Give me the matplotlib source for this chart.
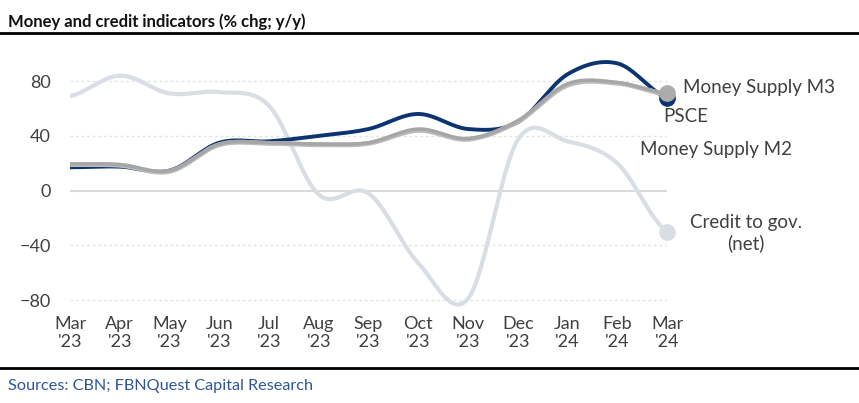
import numpy as np
import matplotlib
matplotlib.use("Agg")
import matplotlib.pyplot as plt

plt.rcParams['font.family'] = ['Lato', 'DejaVu Sans']

# data (% chg y/y)
months = ["Mar\n'23", "Apr\n'23", "May\n'23", "Jun\n'23", "Jul\n'23", "Aug\n'23", "Sep\n'23",
          "Oct\n'23", "Nov\n'23", "Dec\n'23", "Jan\n'24", "Feb\n'24", "Mar\n'24"]
credit_gov = [69, 84, 71, 72, 62, -3, -2, -53, -79, 37, 36, 20, -30]
psce = [17, 17.5, 14.6, 35, 36, 40, 45, 56, 45, 50, 85, 93, 68]
m3 = [19.5, 19, 14.5, 34, 35, 34, 35, 45, 38, 51, 78, 79, 71]
m2 = [19, 18.5, 14, 33.5, 34.5, 33.5, 34.5, 44, 37.5, 50.5, 77, 78.5, 70.5]
yticks = [-80, -40, 0, 40, 80]


def smooth(y, n=30):
    # catmull-rom through the points, like excel's smoothed line
    y = np.asarray(y, float)
    x = np.arange(len(y), dtype=float)
    p = np.concatenate([[y[0]], y, [y[-1]]])
    xs, ys = [], []
    for i in range(len(y) - 1):
        p0, p1, p2, p3 = p[i], p[i + 1], p[i + 2], p[i + 3]
        t = np.linspace(0, 1, n, endpoint=False)
        v = 0.5 * ((2 * p1) + (-p0 + p2) * t + (2 * p0 - 5 * p1 + 4 * p2 - p3) * t**2
                   + (-p0 + 3 * p1 - 3 * p2 + p3) * t**3)
        xs.append(x[i] + t)
        ys.append(v)
    xs.append([x[-1]])
    ys.append([y[-1]])
    return np.concatenate(xs), np.concatenate(ys)


fig = plt.figure(figsize=(8.59, 4.03), dpi=100)
ax = fig.add_axes([0.0815, 0.2216, 0.695, 0.645])

for v in yticks:
    if v == 0:
        ax.axhline(0, color='#d9d9d9', lw=1.5, zorder=1)
    else:
        ax.axhline(v, color='#e3e3e3', lw=1, ls=(0, (2, 2)), zorder=1)

x = np.arange(len(months))
xs, ys = smooth(credit_gov)
ax.plot(xs, ys, color='#d9dee5', lw=3, zorder=2, solid_capstyle='round')
ax.plot(x[-1], credit_gov[-1], 'o', color='#d9dee5', ms=11, zorder=2, clip_on=False)

xs, ys = smooth(psce)
ax.plot(xs, ys, color='#0b3470', lw=2.8, zorder=3)
ax.plot(x[-1], psce[-1], 'o', color='#0b3470', ms=11, zorder=3, clip_on=False)

xs, ys = smooth(m2)
ax.plot(xs, ys, color='#bdbdbd', lw=3.5, zorder=4)
xs, ys = smooth(m3)
ax.plot(xs, ys, color='#a6a6a6', lw=2.5, zorder=5)
ax.plot(x[-1], m3[-1], 'o', color='#acacac', ms=11, zorder=5, clip_on=False)

ax.set_xlim(0, 12)
ax.set_ylim(-90, 100)
ax.set_yticks(yticks)
ax.set_xticks(x)
ax.set_xticklabels(months, linespacing=1.1)
ax.tick_params(length=0, labelsize=13, colors='#404040', pad=2)
ax.tick_params(axis='y', pad=14)
for s in ax.spines.values():
    s.set_visible(False)

lab = dict(fontsize=13.5, color='#404040', transform=fig.transFigure)
fig.text(683 / 859, 1 - 88 / 403, 'Money Supply M3', va='center', ha='left', **lab)
fig.text(663 / 859, 1 - 116 / 403, 'PSCE', va='center', ha='left', **lab)
fig.text(640 / 859, 1 - 150 / 403, 'Money Supply M2', va='center', ha='left', **lab)
fig.text(746 / 859, 1 - 233 / 403, 'Credit to gov.\n(net)', va='center', ha='center',
         linespacing=1.25, **lab)

fig.text(8 / 859, 1 - 22 / 403, 'Money and credit indicators (% chg; y/y)', fontsize=12,
         fontweight='bold', color='#111111', va='center', ha='left')
fig.add_artist(plt.Line2D([0, 1], [1 - 33 / 403] * 2, color='black', lw=2))
fig.add_artist(plt.Line2D([0, 1], [1 - 368 / 403] * 2, color='black', lw=2))
fig.text(8 / 859, 1 - 386 / 403, 'Sources: CBN; FBNQuest Capital Research', fontsize=11.7,
         color='#2e5597', va='center', ha='left')

fig.savefig('out.png', dpi=100)
